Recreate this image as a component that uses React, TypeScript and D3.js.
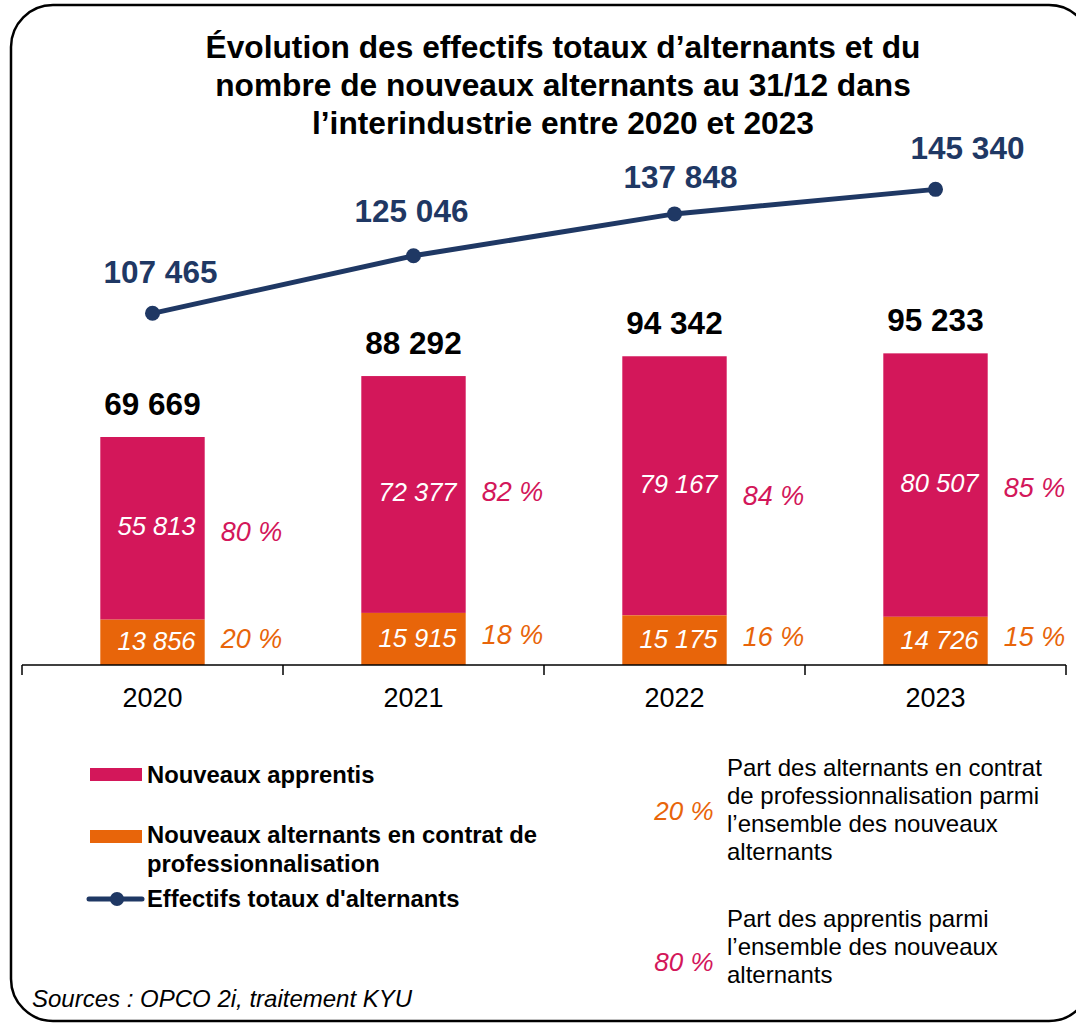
import React from "react";
import * as d3 from "d3";

const years = ["2020", "2021", "2022", "2023"];
const apprentis = [55813, 72377, 79167, 80507];
const professionnalisation = [13856, 15915, 15175, 14726];
const totalNouveaux = [69669, 88292, 94342, 95233];
const effectifsTotaux = [107465, 125046, 137848, 145340];
const titleLines = [
  "Évolution des effectifs totaux d’alternants et du",
  "nombre de nouveaux alternants au 31/12 dans",
  "l’interindustrie entre 2020 et 2023",
];

const PINK = "#D3175A";
const ORANGE = "#E8650A";
const NAVY = "#1F3864";
const FONT = "'Liberation Sans', Arial, Helvetica, sans-serif";

const fmt = (v: number) => d3.format(",")(v).replace(/,/g, " ");

export default function App() {
  const W = 1076;
  const H = 1023;
  const x = d3.scaleBand<string>().domain(years).range([22, 1066]).padding(0);
  const y = d3.scaleLinear().domain([0, 160000]).range([665, 141.4]);
  const bw = x.bandwidth() * 0.4;
  const cx = (yr: string) => (x(yr) as number) + x.bandwidth() / 2;
  const line = d3
    .line<number>()
    .x((_, i) => cx(years[i]))
    .y((d) => y(d));
  const lineLabelDx = [8, -2, 6, 32];
  const lineLabelDy = [30, 34, 26, 30];
  const pinkPctDy = [3, -3, 10, 2];
  const boundaries = [...years.map((yr) => x(yr) as number), 1066];

  return (
    <svg
      width={W}
      height={H}
      style={{ position: "absolute", left: 0, top: 0, fontFamily: FONT }}
    >
      <rect x={0} y={0} width={W} height={H} fill="#fff" />
      <rect
        x={11}
        y={5}
        width={1080}
        height={1016}
        rx={42}
        ry={42}
        fill="none"
        stroke="#000"
        strokeWidth={2.5}
      />
      {titleLines.map((t, i) => (
        <text
          key={i}
          x={563}
          y={58 + i * 38}
          textAnchor="middle"
          fontSize={31.7}
          fontWeight="bold"
          fill="#000"
        >
          {t}
        </text>
      ))}

      {/* bars */}
      {years.map((yr, i) => {
        const c = cx(yr);
        const x0 = c - bw / 2;
        const yOrTop = y(professionnalisation[i]);
        const yPinkTop = y(apprentis[i] + professionnalisation[i]);
        const pinkMid = (yPinkTop + yOrTop) / 2;
        const orMid = (yOrTop + y(0)) / 2;
        const pctPink = Math.round((apprentis[i] / totalNouveaux[i]) * 100);
        const pctOr = Math.round((professionnalisation[i] / totalNouveaux[i]) * 100);
        return (
          <g key={yr}>
            <rect x={x0} y={yPinkTop} width={bw} height={yOrTop - yPinkTop} fill={PINK} />
            <rect x={x0} y={yOrTop} width={bw} height={y(0) - yOrTop} fill={ORANGE} />
            <text
              x={c + 4}
              y={pinkMid - 2}
              dy="0.35em"
              textAnchor="middle"
              fontSize={25.5}
              fontStyle="italic"
              fill="#fff"
            >
              {fmt(apprentis[i])}
            </text>
            <text
              x={c + 4}
              y={orMid - 1}
              dy="0.35em"
              textAnchor="middle"
              fontSize={25.5}
              fontStyle="italic"
              fill="#fff"
            >
              {fmt(professionnalisation[i])}
            </text>
            <text
              x={x0 + bw + 16}
              y={pinkMid + pinkPctDy[i]}
              dy="0.35em"
              fontSize={27}
              fontStyle="italic"
              fill={PINK}
            >
              {pctPink} %
            </text>
            <text
              x={x0 + bw + 16}
              y={orMid - 4}
              dy="0.35em"
              fontSize={27}
              fontStyle="italic"
              fill={ORANGE}
            >
              {pctOr} %
            </text>
            <text
              x={c}
              y={y(totalNouveaux[i]) - 22}
              textAnchor="middle"
              fontSize={31.5}
              fontWeight="bold"
              fill="#000"
            >
              {fmt(totalNouveaux[i])}
            </text>
          </g>
        );
      })}

      {/* axis */}
      <line x1={22} x2={1066} y1={665} y2={665} stroke="#000" strokeWidth={1.5} />
      {boundaries.map((b, i) => (
        <line key={i} x1={b} x2={b} y1={665} y2={675} stroke="#000" strokeWidth={1.5} />
      ))}
      {years.map((yr) => (
        <text
          key={yr}
          x={cx(yr)}
          y={707}
          textAnchor="middle"
          fontSize={27}
          fill="#000"
        >
          {yr}
        </text>
      ))}

      {/* line */}
      <path d={line(effectifsTotaux) || ""} fill="none" stroke={NAVY} strokeWidth={5} />
      {effectifsTotaux.map((v, i) => (
        <g key={i}>
          <circle cx={cx(years[i])} cy={y(v)} r={7.5} fill={NAVY} />
          <text
            x={cx(years[i]) + lineLabelDx[i]}
            y={y(v) - lineLabelDy[i]}
            textAnchor="middle"
            fontSize={31.5}
            fontWeight="bold"
            fill={NAVY}
          >
            {fmt(v)}
          </text>
        </g>
      ))}

      {/* legend left */}
      <rect x={90} y={768} width={52} height={13} fill={PINK} />
      <text x={147} y={783} fontSize={23.8} fontWeight="bold" fill="#000">
        Nouveaux apprentis
      </text>
      <rect x={90} y={830} width={52} height={13} fill={ORANGE} />
      <text x={147} y={843} fontSize={23.8} fontWeight="bold" fill="#000">
        Nouveaux alternants en contrat de
      </text>
      <text x={147} y={872} fontSize={23.8} fontWeight="bold" fill="#000">
        professionnalisation
      </text>
      <line x1={89} x2={142} y1={899} y2={899} stroke={NAVY} strokeWidth={5} strokeLinecap="round" />
      <circle cx={117} cy={899} r={7} fill={NAVY} />
      <text x={147} y={907} fontSize={23.8} fontWeight="bold" fill="#000">
        Effectifs totaux d'alternants
      </text>

      {/* legend right */}
      <text x={684} y={820} textAnchor="middle" fontSize={26} fontStyle="italic" fill={ORANGE}>
        20 %
      </text>
      {[
        "Part des alternants en contrat",
        "de professionnalisation parmi",
        "l’ensemble des nouveaux",
        "alternants",
      ].map((t, i) => (
        <text key={i} x={727} y={776 + i * 28} fontSize={24} fill="#000">
          {t}
        </text>
      ))}
      <text x={684} y={971} textAnchor="middle" fontSize={26} fontStyle="italic" fill={PINK}>
        80 %
      </text>
      {["Part des apprentis parmi", "l’ensemble des nouveaux", "alternants"].map((t, i) => (
        <text key={i} x={727} y={927 + i * 28} fontSize={24} fill="#000">
          {t}
        </text>
      ))}

      <text x={32} y={1007} fontSize={24} fontStyle="italic" fill="#000">
        Sources : OPCO 2i, traitement KYU
      </text>
    </svg>
  );
}
